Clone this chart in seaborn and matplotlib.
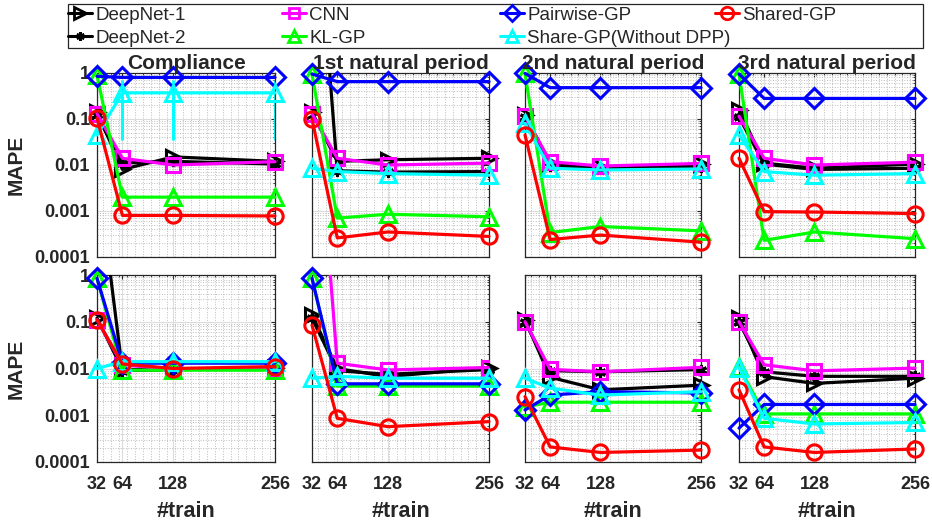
import numpy as np
import matplotlib
matplotlib.use("Agg")
import matplotlib.pyplot as plt
from matplotlib.lines import Line2D
from matplotlib.patches import Rectangle
from matplotlib.ticker import FixedLocator, FixedFormatter, NullFormatter, LogLocator
import seaborn as sns

n_train = [32, 64, 128, 256]
titles = ["Compliance", "1st natural period", "2nd natural period", "3rd natural period"]
y_ticks = [1e-4, 1e-3, 1e-2, 1e-1, 1]
y_tick_labels = ["0.0001", "0.001", "0.01", "0.1", "1"]

# one row per panel: top row (4 outputs), then bottom row (4 outputs)
deepnet1 = [
    [0.14, 0.008, 0.015, 0.012],
    [0.14, 0.012, 0.013, 0.014],
    [0.12, 0.011, 0.009, 0.0105],
    [0.16, 0.011, 0.0085, 0.0105],
    [0.12, 0.0095, 0.0095, 0.0105],
    [0.14, 0.010, 0.0067, 0.0105],
    [0.11, 0.0065, 0.0035, 0.0044],
    [0.12, 0.0067, 0.0048, 0.0062],
]
deepnet2 = [
    [0.12, 0.011, 0.012, 0.0105],
    [1e5, 0.0075, 0.007, 0.0072],
    [0.11, 0.0095, 0.0085, 0.009],
    [0.11, 0.0105, 0.008, 0.0085],
    [200, 0.009, 0.0095, 0.010],
    [0.12, 0.009, 0.0075, 0.0095],
    [0.10, 0.009, 0.0085, 0.0095],
    [0.10, 0.0085, 0.0068, 0.0068],
]
cnn = [
    [0.13, 0.014, 0.010, 0.0118],
    [0.13, 0.014, 0.010, 0.011],
    [0.117, 0.0118, 0.0095, 0.0108],
    [0.115, 0.014, 0.010, 0.0115],
    [0.11, 0.012, 0.0095, 0.0105],
    [1e5, 0.013, 0.0093, 0.0105],
    [0.10, 0.0096, 0.0085, 0.0106],
    [0.10, 0.012, 0.0089, 0.0102],
]
kl_gp = [
    [0.90, 0.002, 0.002, 0.002],
    [0.95, 0.0007, 0.00085, 0.00075],
    [0.98, 0.00034, 0.00046, 0.00037],
    [0.95, 0.00023, 0.00035, 0.00025],
    [0.85, 0.0092, 0.0092, 0.0092],
    [0.85, 0.0042, 0.0042, 0.0042],
    [0.0015, 0.0019, 0.0019, 0.0019],
    [0.011, 0.00107, 0.00107, 0.00107],
]
pairwise_gp = [
    [0.85, 0.80, 0.80, 0.80],
    [0.95, 0.65, 0.65, 0.65],
    [0.98, 0.48, 0.48, 0.48],
    [0.95, 0.28, 0.28, 0.28],
    [0.85, 0.013, 0.013, 0.013],
    [0.85, 0.0047, 0.0047, 0.0047],
    [0.0013, 0.0027, 0.0032, 0.003],
    [0.00053, 0.0017, 0.0017, 0.0017],
]
share_gp_nodpp = [
    [0.045, 0.37, 0.37, 0.37],
    [0.0085, 0.0072, 0.0065, 0.006],
    [0.08, 0.0085, 0.0078, 0.0082],
    [0.045, 0.0072, 0.006, 0.0065],
    [0.010, 0.014, 0.014, 0.014],
    [0.0062, 0.0068, 0.0062, 0.0062],
    [0.0062, 0.0038, 0.0027, 0.0032],
    [0.0105, 0.00086, 0.00065, 0.0007],
]
shared_gp = [
    [0.105, 0.0008, 0.0008, 0.00078],
    [0.10, 0.00026, 0.00035, 0.00028],
    [0.045, 0.00024, 0.0003, 0.00021],
    [0.014, 0.00097, 0.00095, 0.00088],
    [0.11, 0.0125, 0.010, 0.011],
    [0.085, 0.00086, 0.00057, 0.00073],
    [0.0025, 0.00021, 0.00016, 0.00018],
    [0.0035, 0.00021, 0.00016, 0.00019],
]
# error bar of Share-GP(Without DPP) on Compliance
share_err_low = [0.035, 0.035, 0.035]
share_err_high = [0.70, 0.70, 0.70]

series = [
    ("DeepNet-1", deepnet1, "black", ">", 10),
    ("DeepNet-2", deepnet2, "black", (6, 2, 0), 8),
    ("CNN", cnn, "#ff00ff", "s", 9.5),
    ("KL-GP", kl_gp, "#00ff00", "^", 11),
    ("Pairwise-GP", pairwise_gp, "#0000ff", "D", 10),
    ("Share-GP(Without DPP)", share_gp_nodpp, "#00ffff", "^", 11),
    ("Shared-GP", shared_gp, "#ff0000", "o", 11),
]

sns.set_style("whitegrid")
plt.rcParams["font.family"] = ["Liberation Sans", "DejaVu Sans"]
text_color = "#262626"

W, H = 932, 521
lefts = [97, 312, 525, 739]
rights = [275, 489, 701, 915]
tops = [73, 275]
bottoms = [257, 462]

fig = plt.figure(figsize=(W / 100, H / 100), dpi=100)

for p in range(8):
    r, c = divmod(p, 4)
    ax = fig.add_axes([lefts[c] / W, 1 - bottoms[r] / H,
                       (rights[c] - lefts[c]) / W, (bottoms[r] - tops[r]) / H])
    ax.set_yscale("log")
    if p == 0:
        v = share_gp_nodpp[0][1:]
        ax.errorbar(n_train[1:], v,
                    yerr=[np.subtract(v, share_err_low), np.subtract(share_err_high, v)],
                    fmt="none", ecolor="#00ffff", elinewidth=2.2, capsize=0, zorder=2)
    for name, vals, color, marker, ms in series:
        v = vals[p]
        sns.lineplot(x=n_train, y=v, ax=ax, color=color, linewidth=2.3,
                     marker=marker, markersize=ms, markerfacecolor="none",
                     markeredgecolor=color, markeredgewidth=2.2,
                     clip_on=max(v) > 1.5, legend=False, zorder=3)
    ax.set_xlim(32, 256)
    ax.set_ylim(1e-4, 1)
    ax.xaxis.set_major_locator(FixedLocator(n_train))
    ax.xaxis.set_minor_locator(FixedLocator(list(range(40, 256, 10))))
    ax.yaxis.set_major_locator(FixedLocator(y_ticks))
    ax.yaxis.set_minor_locator(LogLocator(base=10, subs=np.arange(2, 10)))
    ax.yaxis.set_minor_formatter(NullFormatter())
    ax.grid(True, which="major", color="#dcdcdc", linestyle="-", linewidth=0.8)
    ax.grid(True, which="minor", color="#bdbdbd", linestyle=":", linewidth=0.7)
    ax.set_axisbelow(True)
    for s in ax.spines.values():
        s.set_color(text_color)
        s.set_linewidth(0.9)
    ax.tick_params(which="both", direction="in", top=True, right=True,
                   colors=text_color, length=3)
    ax.tick_params(which="minor", length=1.5)
    ax.tick_params(axis="x", pad=10)
    ax.tick_params(axis="y", pad=5)
    ax.set_xlabel("")
    ax.set_ylabel("")
    if c == 0:
        ax.yaxis.set_major_formatter(FixedFormatter(y_tick_labels))
        for t in ax.get_yticklabels():
            t.set_fontsize(13)
            t.set_fontweight("bold")
        ax.set_ylabel("MAPE", fontsize=15, fontweight="bold", color=text_color, labelpad=6)
    else:
        ax.set_yticklabels([])
    if r == 1:
        ax.set_xticklabels([str(n) for n in n_train], fontsize=13, fontweight="bold",
                           color=text_color)
        ax.set_xlabel("#train", fontsize=15.5, fontweight="bold", color=text_color, labelpad=6)
    else:
        ax.set_xticklabels([])
        ax.set_title(titles[c], fontsize=15, fontweight="bold", pad=2)

# legend: 4 columns placed like the original, one box around all of them
handles = [Line2D([0], [0], color=color, lw=2.2, marker=marker, markersize=ms - 2,
                  markerfacecolor="none", markeredgecolor=color, markeredgewidth=2)
           for name, vals, color, marker, ms in series]
labels = [s[0] for s in series]
col_items = [[0, 1], [2, 3], [4, 5], [6]]
col_x = [66, 280, 498, 713]
for items, x0 in zip(col_items, col_x):
    fig.legend([handles[i] for i in items], [labels[i] for i in items],
               loc="upper left", bbox_to_anchor=(x0 / W, 1 - 5 / H),
               frameon=False, fontsize=13.5, handlelength=1.3, handletextpad=0.15,
               labelspacing=0.3, borderpad=0.1, borderaxespad=0)
fig.add_artist(Rectangle((68 / W, 1 - 48 / H), (923 - 68) / W, 44 / H,
                         transform=fig.transFigure, fill=False,
                         edgecolor=text_color, linewidth=0.9))

fig.savefig("out.png", dpi=100)
